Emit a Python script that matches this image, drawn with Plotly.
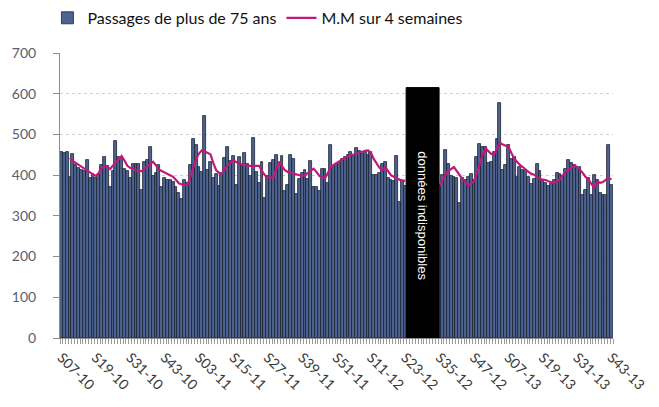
import plotly.graph_objects as go

# ---- data ----
bars = [
    456, 454, 458, 395, 451, 425, 417, 412, 410, 436, 394, 404,
    392, 400, 425, 445, 423, 372, 409, 483, 445, 443, 415, 410,
    392, 428, 428, 428, 364, 433, 437, 470, 398, 406, 425, 372,
    392, 389, 389, 383, 372, 356, 341, 389, 380, 426, 489, 474,
    420, 407, 546, 412, 432, 393, 404, 374, 404, 441, 468, 435,
    448, 377, 444, 425, 454, 428, 399, 491, 407, 380, 432, 345,
    399, 430, 438, 449, 430, 448, 362, 375, 450, 440, 354, 391,
    405, 413, 391, 435, 371, 371, 360, 415, 416, 380, 473, 419,
    427, 431, 440, 444, 450, 458, 446, 466, 460, 452, 456, 450,
    458, 400, 400, 405, 428, 433, 392, 389, 385, 447, 333, 385,
    374, None, None, None, None, None, None, None, None, None, None, None,
    375, 400, 461, 428, 397, 396, 392, 331, 392, 389, 395, 404,
    389, 444, 477, 470, 468, 429, 433, 458, 489, 577, 413, 425,
    475, 440, 444, 395, 420, 413, 409, 396, 379, 391, 428, 409,
    389, 380, 374, 380, 389, 405, 404, 397, 415, 438, 430, 425,
    417, 420, 352, 364, 393, 352, 401, 389, 356, 352, 352, 473,
    377,
]

moving_avg = [
    None, None, None, 442, 434, 430, 425, 420, 415, 411, 406, 402,
    398, 405, 418, 422, 420, 415, 424, 432, 440, 447, 436, 423,
    418, 414, 412, 410, 410, 416, 422, 428, 433, 424, 414, 410,
    406, 404, 400, 396, 388, 380, 377, 376, 376, 396, 420, 440,
    453, 461, 458, 454, 451, 430, 412, 406, 404, 414, 424, 430,
    437, 432, 428, 426, 425, 423, 423, 423, 423, 423, 410, 400,
    394, 394, 394, 415, 433, 422, 412, 408, 406, 404, 402, 400,
    398, 400, 405, 410, 416, 408, 398, 395, 392, 405, 420, 425,
    430, 435, 440, 443, 446, 449, 452, 453, 455, 458, 460, 461,
    455, 440, 428, 418, 412, 420, 410, 400, 396, 392, 389, 387,
    386, None, None, None, None, None, None, None, None, None, None, None,
    374, 388, 401, 410, 416, 420, 410, 399, 390, 384, 374, 380,
    385, 405, 430, 450, 466, 458, 452, 450, 465, 480, 475, 472,
    470, 455, 441, 433, 425, 420, 413, 408, 403, 401, 395, 390,
    389, 388, 385, 382, 380, 385, 390, 400, 409, 415, 420, 423,
    420, 413, 405, 395, 389, 378, 369, 385, 381, 383, 389, 392,
    390,
]

tick_labels = ["S07-10", "S19-10", "S31-10", "S43-10", "S03-11", "S15-11",
               "S27-11", "S39-11", "S51-11", "S11-12", "S23-12", "S35-12",
               "S47-12", "S07-13", "S19-13", "S31-13", "S43-13"]
tick_step = 12

gap_start, gap_end = 120.3, 131.8
gap_top = 615
gap_text = "données indisponibles"

y_ticks = [0, 100, 200, 300, 400, 500, 600, 700]

x = list(range(len(bars)))

fig = go.Figure()
fig.add_trace(go.Bar(
    x=x, y=bars, name="Passages de plus de 75 ans",
    marker=dict(color="#4d6391", line=dict(color="#1c2230", width=0.8)),
))
fig.add_trace(go.Scatter(
    x=x, y=moving_avg, name="M.M sur 4 semaines", mode="lines",
    line=dict(color="#c2187c", width=2.2), connectgaps=False,
))

fig.add_shape(type="rect", xref="x", yref="y",
              x0=gap_start, x1=gap_end, y0=0, y1=gap_top,
              fillcolor="black", line=dict(color="black", width=1), layer="above")
fig.add_annotation(x=(gap_start + gap_end) / 2, y=300, xref="x", yref="y",
                   text=gap_text, textangle=90, showarrow=False,
                   font=dict(family="Liberation Sans, Arial", size=13, color="white"))

fig.update_layout(
    width=659, height=407,
    margin=dict(l=60, r=46, t=53, b=69, autoexpand=False),
    paper_bgcolor="white", plot_bgcolor="white",
    bargap=0.0,
    showlegend=True,
    legend=dict(orientation="h", x=0.072, xref="container", xanchor="left",
                y=0.956, yref="container", yanchor="middle",
                font=dict(family="Lato, Open Sans", size=16, color="#111111"),
                itemwidth=30, tracegroupgap=0, bgcolor="rgba(0,0,0,0)"),
    font=dict(family="Lato, Open Sans", color="#404040"),
)

fig.update_xaxes(
    range=[-0.5, len(bars) - 0.5],
    automargin=False,
    tickmode="array",
    tickvals=[i * tick_step for i in range(len(tick_labels))],
    ticktext=tick_labels,
    tickangle=45,
    tickfont=dict(size=14, color="#3a3a3a"),
    ticks="",
    ticklabelstandoff=5,
    showline=True, linecolor="#8c8c8c", linewidth=1,
    showgrid=False, zeroline=False,
    minor=dict(tickmode="linear", tick0=-0.5, dtick=1, ticks="outside",
               ticklen=5, tickcolor="#9a9a9a", showgrid=False),
)
fig.update_yaxes(
    range=[0, 700],
    automargin=False,
    tickmode="array", tickvals=y_ticks,
    tickfont=dict(size=14, color="#5a6070"),
    ticks="outside", ticklen=6, tickcolor="#8c8c8c",
    ticklabelstandoff=14,
    showline=True, linecolor="#8c8c8c", linewidth=1,
    showgrid=True, gridcolor="#d0d0d0", griddash="dot", gridwidth=1,
    zeroline=False,
)

fig.write_html("out.html",
               config={"displayModeBar": False},
               post_script="document.body.style.margin='0';document.body.style.padding='0';")
